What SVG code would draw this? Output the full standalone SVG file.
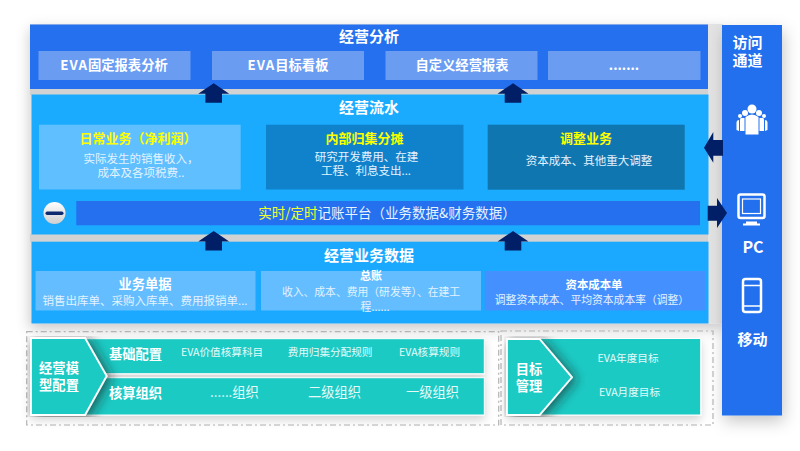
<svg xmlns="http://www.w3.org/2000/svg" width="800" height="451" viewBox="0 0 800 451">
<defs>
<filter id="sh" x="-20%" y="-20%" width="140%" height="150%"><feDropShadow dx="0" dy="5" stdDeviation="7" flood-color="#000" flood-opacity="0.22"/></filter>
<filter id="shr" x="-60%" y="-10%" width="220%" height="125%"><feDropShadow dx="2" dy="6" stdDeviation="8" flood-color="#000" flood-opacity="0.22"/></filter>
<filter id="sht" x="-10%" y="-20%" width="120%" height="170%"><feDropShadow dx="0" dy="4" stdDeviation="5" flood-color="#000" flood-opacity="0.18"/></filter>
<filter id="chev" x="-40%" y="-20%" width="190%" height="140%"><feDropShadow dx="4" dy="2" stdDeviation="6" flood-color="#222" flood-opacity="0.6"/></filter>
<clipPath id="cl"><rect x="27" y="336" width="460" height="81"/></clipPath>
<clipPath id="cr"><rect x="504" y="336" width="197" height="81"/></clipPath>
<path id="up" d="M0 0L15.500 10.500H8.300V19.500H-8.300V10.500H-15.500Z" fill="#001f66"/>
<linearGradient id="disc" x1="0" y1="0" x2="0" y2="1"><stop offset="0" stop-color="#fff"/><stop offset="1" stop-color="#cfcfcf"/></linearGradient>
</defs>
<style>
text{font-family:"Noto Sans CJK SC","Noto Sans",sans-serif;fill:#fff;text-anchor:middle}
.t{font-size:15px;font-weight:700}
.h{font-size:13.300px;font-weight:700}
.e{letter-spacing:1px}
.s{font-size:11.500px;fill:#e4f3ff}
.m{font-size:10.800px;fill:#e4f3ff}
.y{font-size:13px;font-weight:700;fill:#ffff00}
.c{font-size:10.600px;fill:#e6fbfa}
.o{font-size:13.300px;fill:#e6fbfa}
.a{font-size:15px;font-weight:700}
.g{fill:none;stroke:#b4b4b4;stroke-width:1.200;stroke-dasharray:6 3 2 3}
.i{fill:none;stroke:#fff;stroke-width:2.500}
.r{fill:#1ccac4;stroke:#fff;stroke-width:1}
.w{fill:#1ccac4;stroke:#fff;stroke-width:1.800}
</style>
<rect x="0" y="0" width="800" height="451" fill="#fff"/>
<rect x="30" y="24" width="693" height="299.500" fill="#e3e3e3" filter="url(#sh)"/>
<rect x="722" y="25" width="60" height="390.500" fill="#2470ee" filter="url(#shr)"/>
<rect x="30" y="89" width="678" height="6" fill="#d2d2d2"/>
<rect x="30" y="234" width="678" height="8" fill="#d2d2d2"/>
<g id="panel-analysis">
<rect x="30" y="24.500" width="678" height="64.500" fill="#2470ee"/>
<text class="t" x="369" y="42">经营分析</text>
<rect x="38.500" y="51" width="152" height="29" fill="#6a9cf2"/>
<text class="h" x="114" y="70"><tspan class="e">EVA</tspan>固定报表分析</text>
<rect x="212" y="51" width="152" height="29" fill="#6a9cf2"/>
<text class="h" x="288" y="70"><tspan class="e">EVA</tspan>目标看板</text>
<rect x="385.500" y="51" width="152" height="29" fill="#6a9cf2"/>
<text class="h" x="462" y="70">自定义经营报表</text>
<rect x="548" y="51" width="152.500" height="29" fill="#6a9cf2"/>
<text class="h" x="624" y="70">.......</text>
</g>
<g id="panel-flow">
<rect x="31.500" y="94.500" width="677" height="140" fill="#1aabff"/>
<text class="t" x="369" y="113">经营流水</text>
<rect x="39" y="124.700" width="201.700" height="64.800" fill="#5fbfff"/>
<text class="y" x="138" y="143">日常业务（净利润）</text>
<text class="s" x="141" y="163">实际发生的销售收入，</text>
<text class="s" x="141" y="177">成本及各项税费..</text>
<rect x="266" y="124.700" width="197.500" height="64.800" fill="#1082cc"/>
<text class="y" x="364.500" y="143">内部归集分摊</text>
<text class="s" x="366.500" y="161">研究开发费用、在建</text>
<text class="s" x="366" y="175">工程、利息支出...</text>
<rect x="487.700" y="124.700" width="197" height="65" fill="#1076b0"/>
<text class="y" x="586" y="143">调整业务</text>
<text class="s" x="589" y="165">资本成本、其他重大调整</text>
</g>
<g id="platform-bar">
<rect x="76.300" y="201" width="623.700" height="24.300" fill="#2470ee"/>
<text x="387" y="218" font-size="13.500"><tspan fill="#f0ff30">实时/定时</tspan><tspan fill="#e8f3ff">记账平台（业务数据&amp;财务数据）</tspan></text>
</g>
<g id="badge">
<circle cx="54.500" cy="213" r="11" fill="url(#disc)"/>
<rect x="45.500" y="211.500" width="18" height="3.500" rx="1.700" fill="#0e2a70"/>
</g>
<g id="panel-data">
<rect x="31.500" y="241.700" width="677" height="81.800" fill="#1aa9ff"/>
<text class="t" x="369" y="261">经营业务数据</text>
<rect x="35.500" y="271" width="220" height="39.500" fill="#63bdff"/>
<text class="h" x="145" y="289">业务单据</text>
<text class="s" x="145" y="305">销售出库单、采购入库单、费用报销单...</text>
<rect x="261" y="271" width="220" height="39.500" fill="#63bdff"/>
<text x="371" y="280" font-size="11" font-weight="700">总账</text>
<text class="m" x="371" y="296">收入、成本、费用（研发等）、在建工</text>
<text class="m" x="375" y="311">程......</text>
<rect x="484.700" y="271" width="220.300" height="39.500" fill="#4590ff"/>
<text x="594" y="289" font-size="11.400" font-weight="700">资本成本单</text>
<text class="m" x="592" y="304">调整资本成本、平均资本成本率（调整）</text>
</g>
<g id="channel">
<text class="a" x="747.500" y="48">访问</text>
<text class="a" x="747.500" y="66">通道</text>
<g id="icon-people" fill="#fff">
<circle cx="752" cy="109" r="4.500"/>
<path d="M745.500 117Q752 112 758.500 117V134.500H745.500Z"/>
<circle cx="759" cy="113" r="3"/>
<circle cx="745" cy="113" r="3"/>
<path d="M759.500 118h3.500q1 0 1 2v11h-4.500Z"/>
<path d="M744.500 118h-3.500q-1 0-1 2v11h4.500Z"/>
<circle cx="764" cy="116" r="2"/>
<circle cx="740" cy="116" r="2"/>
<path d="M765 120q2 0 2.500 2v8l-2.500 1Z"/>
<path d="M739 120q-2 0-2.500 2v8l2.500 1Z"/>
</g>
<g id="icon-pc">
<rect x="738.500" y="194.500" width="26" height="23.500" rx="2" class="i"/>
<rect x="742.500" y="199" width="18" height="14.500" fill="none" stroke="#fff" stroke-width="1.200"/>
<path d="M746 221.500h11v2h3v2h-17v-2h3Z" fill="#fff"/>
</g>
<text x="753" y="253" font-size="16" font-weight="700">PC</text>
<g id="icon-mobile">
<rect x="743" y="279" width="18" height="33" rx="2.500" class="i"/>
<path d="M743 285.500h18M743 306h18" stroke="#fff" stroke-width="1.500" fill="none"/>
</g>
<text class="a" x="752.500" y="345">移动</text>
</g>
<g id="config-left">
<rect x="26.700" y="331.700" width="472" height="93.300" class="g"/>
<rect x="31" y="338.700" width="453.300" height="35" class="r" filter="url(#sht)"/>
<rect x="31" y="377.700" width="453.300" height="37.300" class="r" filter="url(#sht)"/>
<g clip-path="url(#cl)"><path d="M31 338H85L106.700 376 85 415H31Z" class="w" filter="url(#chev)"/></g>
<text class="h" x="59" y="373">经营模</text>
<text class="h" x="59" y="390">型配置</text>
<text class="h" x="135.500" y="359">基础配置</text>
<text class="c" x="222" y="356">EVA价值核算科目</text>
<text class="c" x="330" y="356">费用归集分配规则</text>
<text class="c" x="429.500" y="356">EVA核算规则</text>
<text class="h" x="135.500" y="398">核算组织</text>
<text class="o" x="234.500" y="397">......组织</text>
<text class="o" x="334.500" y="397">二级组织</text>
<text class="o" x="432.500" y="397">一级组织</text>
</g>
<g id="config-right">
<rect x="501" y="331" width="212" height="94" class="g"/>
<rect x="506.700" y="338.500" width="194" height="76.500" class="r" filter="url(#sht)"/>
<g clip-path="url(#cr)"><path d="M507 339H539.500L572 377.300 539.500 415H507Z" class="w" filter="url(#chev)"/></g>
<text class="h" x="529" y="374">目标</text>
<text class="h" x="529" y="391">管理</text>
<text class="c" x="628" y="362">EVA年度目标</text>
<text class="c" x="629.500" y="396">EVA月度目标</text>
</g>
<g id="connectors">
<use href="#up" x="213.700" y="83.300"/>
<use href="#up" x="513" y="83.300"/>
<use href="#up" x="213.700" y="231"/>
<use href="#up" x="513" y="231"/>
<path d="M704 147.700L713.300 132V140H723V155.700H713.300V162.700Z" fill="#001f66"/>
<path d="M727 213L717 198V205.700H707.700V220.700H717V228Z" fill="#001f66"/>
</g>
</svg>
